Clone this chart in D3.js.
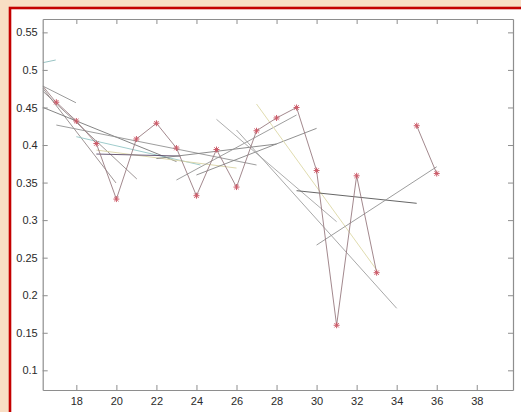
<!DOCTYPE html>
<html>
<head>
<meta charset="utf-8">
<script src="https://cdn.jsdelivr.net/npm/d3@7"></script>
<style>
  html, body { margin: 0; padding: 0; background: #f8dec4; }
  svg { display: block; }
</style>
</head>
<body>
<script>
// ---- data ----
const seriesX = [17, 18, 19, 20, 21, 22, 23, 24, 25, 26, 27, 28, 29, 30, 31, 32, 33, 34, 35, 36];
const seriesY = [0.457, 0.432, 0.402, 0.328, 0.408, 0.429, 0.396, 0.3325, 0.394, 0.344,
                 0.419, 0.436, 0.450, 0.366, 0.160, 0.359, 0.230, null, 0.4257, 0.362];

// local fit segments: start x, start y, end x, end y
const segX1 = [16.32, 16.32, 16.32, 16.32, 16.32, 16.32, 17.0, 18.0, 19.0, 19.0, 22.0, 23.0, 24.0, 25.0, 26.0, 27.0, 29.0, 30.0];
const segY1 = [0.5096, 0.4786, 0.4786, 0.4759, 0.4719, 0.4502, 0.4266, 0.4111, 0.3933, 0.3880, 0.3820, 0.3534, 0.3601, 0.4342, 0.4200, 0.4546, 0.3392, 0.2668];
const segX2 = [16.97, 17.98, 16.97, 19.98, 21.02, 23.0, 27.0, 24.2, 26.0, 23.2, 28.0, 29.0, 30.0, 31.0, 34.0, 33.0, 35.0, 36.0];
const segY2 = [0.5132, 0.4563, 0.4573, 0.3495, 0.3548, 0.3780, 0.3734, 0.3734, 0.3693, 0.3853, 0.4013, 0.4400, 0.4222, 0.2979, 0.1826, 0.2336, 0.3224, 0.3711];
const segColor = ["#8cbcbc", "#8e8e8e", "#9a7e80", "#938888", "#938a8a", "#777777", "#929292", "#94c6c6", "#d8d2a4",
                  "#5a4a68", "#808080", "#939393", "#858585", "#a4a4a4", "#9e9e9e", "#dcd8a6", "#555555", "#929292"];

const xTicks = [18, 20, 22, 24, 26, 28, 30, 32, 34, 36, 38];
const yTicks = [0.1, 0.15, 0.2, 0.25, 0.3, 0.35, 0.4, 0.45, 0.5, 0.55];
const xDomain = [16.32, 39.81];
const yDomain = [0.0738, 0.5678];

// ---- layout ----
const W = 521, H = 412;
const L = 42.7, R = 513, T = 19, B = 390;

const svg = d3.select("body").append("svg").attr("width", W).attr("height", H);

svg.append("rect").attr("x", 0).attr("y", 0).attr("width", W).attr("height", H).attr("fill", "#f8dec4");
svg.append("rect").attr("x", 10).attr("y", 8).attr("width", W + 20).attr("height", H + 20)
  .attr("fill", "#ffffff").attr("stroke", "#c40000").attr("stroke-width", 2.6);

const x = d3.scaleLinear().domain(xDomain).range([L, R]);
const y = d3.scaleLinear().domain(yDomain).range([B, T]);

svg.append("clipPath").attr("id", "clip").append("rect")
  .attr("x", L).attr("y", T).attr("width", R - L).attr("height", B - T);

const plot = svg.append("g").attr("clip-path", "url(#clip)");

// fit segments
plot.selectAll("line.seg").data(segX1.map((d, i) => i)).join("line")
  .attr("class", "seg")
  .attr("x1", i => x(segX1[i])).attr("y1", i => y(segY1[i]))
  .attr("x2", i => x(segX2[i])).attr("y2", i => y(segY2[i]))
  .attr("stroke", i => segColor[i]).attr("stroke-width", 0.9);

// series
const pts = seriesX.map((d, i) => ({ x: d, y: seriesY[i] }));
plot.append("path").datum(pts)
  .attr("d", d3.line().defined(d => d.y !== null).x(d => x(d.x)).y(d => y(d.y)))
  .attr("fill", "none").attr("stroke", "#977a80").attr("stroke-width", 0.9);

const star = "M-3,0L3,0M0,-3L0,3M-2.2,-2.2L2.2,2.2M-2.2,2.2L2.2,-2.2";
plot.selectAll("path.mk").data(pts.filter(d => d.y !== null)).join("path")
  .attr("class", "mk")
  .attr("transform", d => `translate(${x(d.x)},${y(d.y)})`)
  .attr("d", star).attr("fill", "none").attr("stroke", "#cc5a68").attr("stroke-width", 1);

// axes
const axisColor = "#8e8e8e";
function style(g) {
  g.selectAll("path.domain").attr("stroke", axisColor).attr("stroke-width", 1.2);
  g.selectAll(".tick line").attr("stroke", axisColor);
  g.selectAll("text").attr("fill", "#2a2a2a").style("font-family", "'Liberation Sans', Arial, sans-serif").style("font-size", "11px");
}
svg.append("g").attr("transform", `translate(0,${B})`)
  .call(d3.axisBottom(x).tickValues(xTicks).tickFormat(d3.format("d")).tickSizeInner(-5).tickSizeOuter(0).tickPadding(7))
  .call(style);
svg.append("g").attr("transform", `translate(0,${T})`)
  .call(d3.axisTop(x).tickValues(xTicks).tickFormat("").tickSizeInner(-5).tickSizeOuter(0))
  .call(style);
svg.append("g").attr("transform", `translate(${L},0)`)
  .call(d3.axisLeft(y).tickValues(yTicks).tickFormat(d => d3.format("")(+d.toFixed(2))).tickSizeInner(-5).tickSizeOuter(0).tickPadding(5))
  .call(style);
svg.append("g").attr("transform", `translate(${R},0)`)
  .call(d3.axisRight(y).tickValues(yTicks).tickFormat("").tickSizeInner(-5).tickSizeOuter(0))
  .call(style);
</script>
</body>
</html>
